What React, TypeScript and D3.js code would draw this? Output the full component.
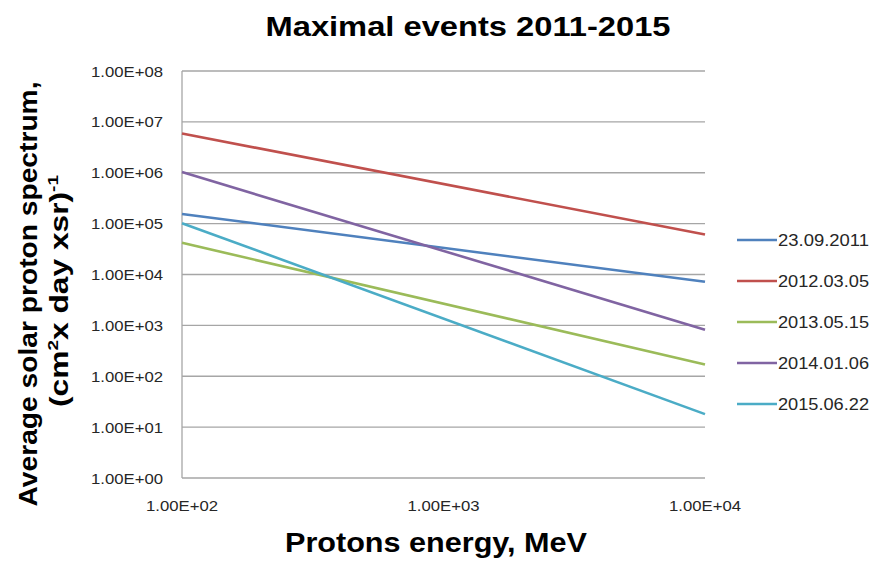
import React from 'react';
import * as d3 from 'd3';

// energies (MeV) at the two ends of each spectrum
const energies = [100, 10000];

const seriesNames = ['23.09.2011', '2012.03.05', '2013.05.15', '2014.01.06', '2015.06.22'];
const seriesColors = ['#4F81BD', '#C0504D', '#9BBB59', '#8064A2', '#4BACC6'];

// flux values at 100 MeV and 10000 MeV
const flux2011 = [1.55e5, 7.2e3];
const flux2012 = [5.9e6, 6.1e4];
const flux2013 = [4.2e4, 1.7e2];
const flux2014 = [1.03e6, 8.2e2];
const flux2015 = [1.02e5, 1.8e1];

const yTicks = [1, 1e1, 1e2, 1e3, 1e4, 1e5, 1e6, 1e7, 1e8];
const xTicks = [1e2, 1e3, 1e4];

const fmt = (v: number) => {
  const e = Math.round(Math.log10(v));
  return '1.00E+' + String(e).padStart(2, '0');
};

const App = () => {
  const width = 872;
  const height = 563;
  const margin = { left: 182, right: 167, top: 71, bottom: 85 };

  const x = d3.scaleLog().domain([1e2, 1e4]).range([margin.left, width - margin.right]);
  const y = d3.scaleLog().domain([1, 1e8]).range([height - margin.bottom, margin.top]);

  const allSeries = [flux2011, flux2012, flux2013, flux2014, flux2015];
  const line = d3.line<number>()
    .x((_, i) => x(energies[i]))
    .y(d => y(d));

  const font = 'Liberation Sans, Arial, sans-serif';

  return (
    <svg width={width} height={height} style={{ display: 'block', position: 'absolute', left: 0, top: 0 }}>
      <rect width={width} height={height} fill="#fff" />
      <text x={468} y={36} textAnchor="middle" fontFamily={font} fontWeight="bold"
        fontSize={28} textLength={405} lengthAdjust="spacingAndGlyphs" fill="#000">
        Maximal events 2011-2015
      </text>

      {yTicks.map(t => (
        <g key={t}>
          <line x1={x(1e2)} x2={x(1e4)} y1={y(t)} y2={y(t)} stroke="#a6a6a6" strokeWidth={1.3} />
          <text x={163} y={y(t) + 5.5} textAnchor="end" fontFamily={font} fontSize={15}
            textLength={72} lengthAdjust="spacingAndGlyphs" fill="#262626">{fmt(t)}</text>
        </g>
      ))}
      <line x1={x(1e2)} x2={x(1e2)} y1={y(1e8)} y2={y(1)} stroke="#a6a6a6" strokeWidth={1.3} />

      {xTicks.map(t => (
        <text key={t} x={x(t)} y={510.5} textAnchor="middle" fontFamily={font} fontSize={15}
          textLength={72} lengthAdjust="spacingAndGlyphs" fill="#262626">{fmt(t)}</text>
      ))}

      {allSeries.map((s, i) => (
        <path key={i} d={line(s) || ''} fill="none" stroke={seriesColors[i]} strokeWidth={2.6} />
      ))}

      <text x={436} y={552} textAnchor="middle" fontFamily={font} fontWeight="bold"
        fontSize={27} textLength={302} lengthAdjust="spacingAndGlyphs" fill="#000">
        Protons energy, MeV
      </text>

      <g transform="translate(37,294) rotate(-90)">
        <text x={0} y={0} textAnchor="middle" fontFamily={font} fontWeight="bold"
          fontSize={26} textLength={425} lengthAdjust="spacingAndGlyphs" fill="#000">
          Average solar proton spectrum,
        </text>
      </g>
      <g transform="translate(68,291) rotate(-90)">
        <text x={0} y={0} textAnchor="middle" fontFamily={font} fontWeight="bold"
          fontSize={25} textLength={232} lengthAdjust="spacingAndGlyphs" fill="#000">
          (cm<tspan fontSize={15} dy={-10}>2</tspan><tspan dy={10}>x  day xsr)</tspan>
          <tspan fontSize={15} dy={-10}>-1</tspan>
        </text>
      </g>

      {seriesNames.map((n, i) => (
        <g key={n} transform={`translate(737,${240 + i * 41})`}>
          <line x1={0} x2={40} y1={0} y2={0} stroke={seriesColors[i]} strokeWidth={2.6} />
          <text x={41} y={6} fontFamily={font} fontSize={16} textLength={91}
            lengthAdjust="spacingAndGlyphs" fill="#262626">{n}</text>
        </g>
      ))}
    </svg>
  );
};

export default App;
